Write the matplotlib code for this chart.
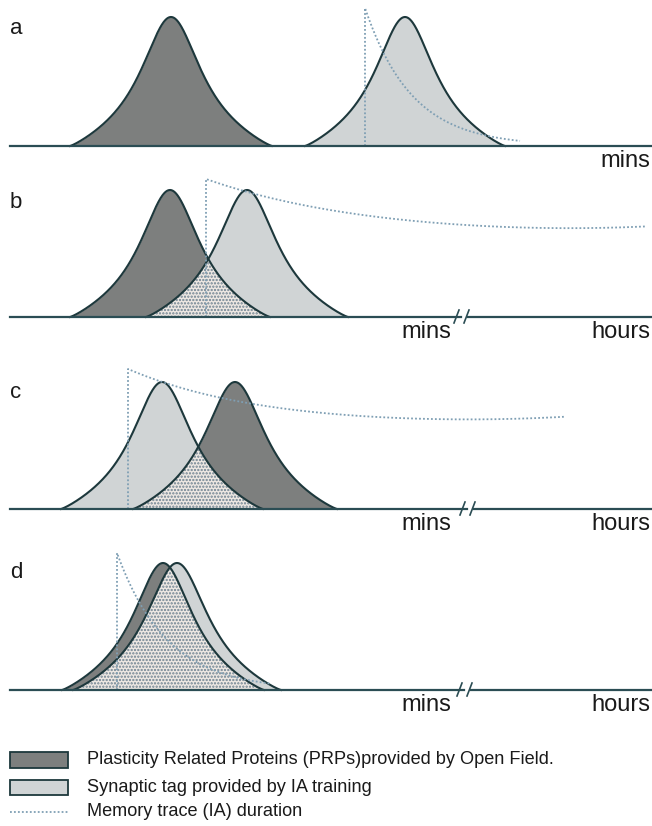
import numpy as np
import matplotlib
matplotlib.use("Agg")
import matplotlib.pyplot as plt

plt.rcParams['font.family'] = ['Liberation Sans', 'DejaVu Sans']
plt.rcParams['hatch.linewidth'] = 1.1
plt.rcParams['hatch.color'] = '#6d8190'

# picture is laid out in pixel units (652 x 826, y grows downwards)
panel_names = ['a', 'b', 'c', 'd']
baseline_y = [146, 317, 509, 690]
label_y = [28, 203, 393, 573]
break_x = [None, 462, 468, 465]
mins_x = [650, 451, 451, 451]

# Plasticity Related Proteins (dark): centre, half base width, height
prp_centre = [171, 170, 235, 163]
prp_halfwidth = [101, 100, 102, 101]
prp_height = [129, 127, 127, 127]

# synaptic tag (light)
tag_centre = [405, 247, 162, 177]
tag_halfwidth = [100, 101, 101, 104]
tag_height = [129, 127, 127, 127]

# memory trace: start x, start height, decay length, floor, end x, end lift
trace_start = [365, 206, 128, 117]
trace_height = [138, 138, 140, 137]
trace_decay = [47, 170, 135, 50]
trace_floor = [0, 78, 82, 0]
trace_end = [520, 645, 565, 270]
trace_lift = [0, 8, 8, 0]

legend_labels = ['Plasticity Related Proteins (PRPs)provided by Open Field.',
                 'Synaptic tag provided by IA training',
                 'Memory trace (IA) duration']

DARK = '#7d7f7e'
LIGHT = '#d0d4d5'
EDGE = '#1d383c'
AXIS = '#2b4d54'
TRACE = '#7f9fb4'


def peak(x, centre, halfwidth, height):
    # lorentzian-like bump tapered to zero at centre +- halfwidth
    t = np.clip(np.abs(x - centre) / halfwidth, 0, 1)
    y = (1 - t ** 4) ** 1.2 / (1 + (t / 0.36) ** 2)
    return height * y


def draw_panel(ax, i):
    base = baseline_y[i]
    lo = min(prp_centre[i] - prp_halfwidth[i], tag_centre[i] - tag_halfwidth[i])
    hi = max(prp_centre[i] + prp_halfwidth[i], tag_centre[i] + tag_halfwidth[i])
    x = np.linspace(lo, hi, 1200)
    h_prp = peak(x, prp_centre[i], prp_halfwidth[i], prp_height[i])
    h_tag = peak(x, tag_centre[i], tag_halfwidth[i], tag_height[i])
    m_prp = np.abs(x - prp_centre[i]) <= prp_halfwidth[i]
    m_tag = np.abs(x - tag_centre[i]) <= tag_halfwidth[i]

    ax.fill_between(x[m_prp], base - h_prp[m_prp], base, color=DARK, lw=0, zorder=2)
    ax.fill_between(x[m_tag], base - h_tag[m_tag], base, color=LIGHT, lw=0, zorder=2)

    both = np.minimum(h_prp, h_tag)
    m_both = m_prp & m_tag
    if m_both.any():
        ax.fill_between(x[m_both], base - both[m_both], base, facecolor='#eee8e3',
                        edgecolor='#6d8190', hatch='.....', lw=0, zorder=3)

    ax.plot(x[m_prp], base - h_prp[m_prp], color=EDGE, lw=1.5, zorder=5)
    ax.plot(x[m_tag], base - h_tag[m_tag], color=EDGE, lw=1.5, zorder=5)

    # memory trace
    x0 = trace_start[i]
    xt = np.linspace(x0, trace_end[i], 400)
    frac = (xt - x0) / (trace_end[i] - x0)
    ht = (trace_floor[i] + (trace_height[i] - trace_floor[i]) * np.exp(-(xt - x0) / trace_decay[i])
          + trace_lift[i] * frac ** 4)
    xs = np.concatenate([[x0], xt])
    ys = np.concatenate([[base], base - ht])
    ax.plot(xs, ys, color=TRACE, lw=1.3, ls=(0, (1, 1.2)), zorder=6)

    # baseline with optional break
    bx = break_x[i]
    if bx is None:
        ax.plot([10, 652], [base, base], color=AXIS, lw=1.6, zorder=7)
    else:
        ax.plot([10, bx - 1], [base, base], color=AXIS, lw=1.6, zorder=7)
        ax.plot([bx + 6, 652], [base, base], color=AXIS, lw=1.6, zorder=7)
        ax.plot([bx - 8, bx - 3], [base + 6, base - 7], color=AXIS, lw=1.2, zorder=7)
        ax.plot([bx + 2, bx + 7], [base + 6, base - 7], color=AXIS, lw=1.2, zorder=7)
        ax.text(650, base + 15, 'hours', ha='right', va='center', fontsize=17, color='#1a1a1a')

    ax.text(mins_x[i], base + 15, 'mins', ha='right', va='center', fontsize=17, color='#1a1a1a')
    ax.text(10, label_y[i], panel_names[i], ha='left', va='center', fontsize=16, color='#1a1a1a')


def draw_legend(ax):
    ax.add_patch(plt.Rectangle((10, 752), 58, 16, facecolor=DARK, edgecolor=EDGE, lw=1.3))
    ax.add_patch(plt.Rectangle((10, 780), 58, 15, facecolor=LIGHT, edgecolor=EDGE, lw=1.3))
    ax.plot([10, 68], [812, 812], color=TRACE, lw=1.3, ls=(0, (1, 1.2)))
    for label, y in zip(legend_labels, [760, 787, 811]):
        ax.text(87, y, label, ha='left', va='center', fontsize=13.1, color='#1a1a1a')


def main():
    fig = plt.figure(figsize=(6.52, 8.26), dpi=100)
    ax = fig.add_axes([0, 0, 1, 1])
    ax.set_xlim(0, 652)
    ax.set_ylim(826, 0)
    ax.axis('off')

    for i in range(len(panel_names)):
        draw_panel(ax, i)
    draw_legend(ax)

    fig.savefig('out.png', dpi=100, facecolor='white')


if __name__ == "__main__":
    main()
